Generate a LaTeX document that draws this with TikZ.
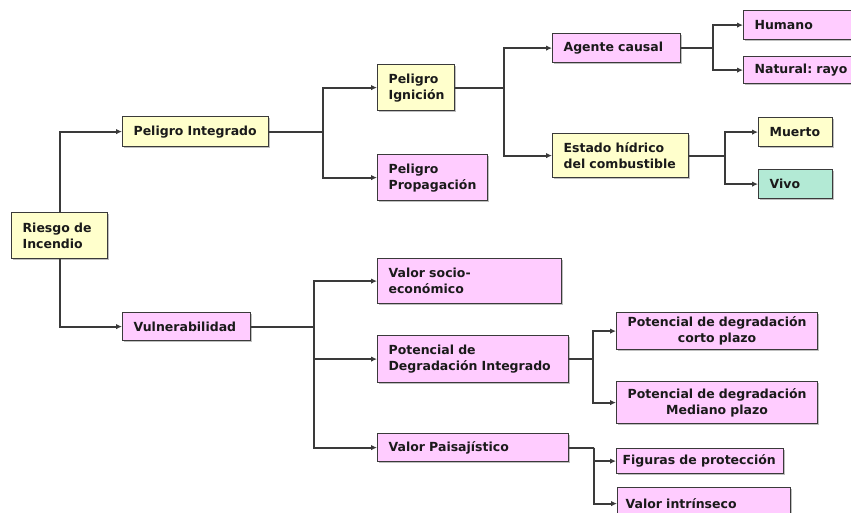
\documentclass[tikz,border=0pt]{standalone}
\usepackage{fontspec}
\setmainfont{DejaVu Sans}
\usetikzlibrary{arrows.meta,shadows}
\definecolor{yel}{HTML}{FFFFCC}
\definecolor{pnk}{HTML}{FFCCFF}
\definecolor{mnt}{HTML}{B3EAD5}
\definecolor{edge}{HTML}{3A3A3A}
\definecolor{txt}{HTML}{1A1A1A}
\tikzset{
  box/.style={draw=edge, line width=1.2pt, anchor=north west, inner xsep=11pt, inner ysep=0pt,
    align=left, text=txt, font=\bfseries\fontsize{12.5}{16}\selectfont,
    drop shadow={shadow xshift=1.3pt, shadow yshift=-1.3pt, fill=black!50, opacity=0.5}},
  ln/.style={draw=edge, line width=1.9pt},
  arr/.style={ln, -{Latex[length=6pt,width=5.5pt]}}
}
\begin{document}
\begin{tikzpicture}[x=1pt,y=-1pt]
\useasboundingbox[fill=white] (0,0) rectangle (851,512);
% nodes
\node[box, fill=yel, minimum width=96, minimum height=46, text width=74] (rie) at (11,212) {Riesgo de\\Incendio};
\node[box, fill=yel, minimum width=146, minimum height=30, text width=124] (pint) at (122,116) {Peligro Integrado};
\node[box, fill=pnk, minimum width=128, minimum height=28, text width=106] (vul) at (122,312) {Vulnerabilidad};
\node[box, fill=yel, minimum width=77, minimum height=46, text width=55] (ign) at (377,64) {Peligro\\Ignición};
\node[box, fill=pnk, minimum width=110, minimum height=46, text width=88] (pro) at (377,154) {Peligro\\Propagación};
\node[box, fill=pnk, minimum width=128, minimum height=29, text width=106] (age) at (552,33) {Agente causal};
\node[box, fill=yel, minimum width=136, minimum height=44, text width=114] (est) at (552,133) {Estado hídrico\\del combustible};
\node[box, fill=pnk, minimum width=130, minimum height=29, text width=108] (hum) at (743,10) {Humano};
\node[box, fill=pnk, minimum width=130, minimum height=27, text width=108] (nat) at (743,56) {Natural:\ rayo};
\node[box, fill=yel, minimum width=74, minimum height=29, text width=52] (mue) at (758,117) {Muerto};
\node[box, fill=mnt, minimum width=74, minimum height=29, text width=52] (viv) at (758,169) {Vivo};
\node[box, fill=pnk, minimum width=184, minimum height=45, text width=162] (soc) at (377,258) {Valor socio-\\económico};
\node[box, fill=pnk, minimum width=191, minimum height=47, text width=169] (pdi) at (377,335) {Potencial de\\Degradación Integrado};
\node[box, fill=pnk, minimum width=191, minimum height=28, text width=169] (pai) at (377,433) {Valor Paisajístico};
\node[box, fill=pnk, minimum width=201, minimum height=37, text width=189, inner xsep=6pt, align=center] (cor) at (616,312) {Potencial de degradación\\corto plazo};
\node[box, fill=pnk, minimum width=201, minimum height=42, text width=189, inner xsep=6pt, align=center] (med) at (616,381) {Potencial de degradación\\Mediano plazo};
\node[box, fill=pnk, minimum width=167, minimum height=25, text width=155, inner xsep=6pt] (fig) at (616,448) {Figuras de protección};
\node[box, fill=pnk, minimum width=173, minimum height=32, text width=157, inner xsep=8pt] (vin) at (617,487) {Valor intrínseco};
% junctions
\path (pint.east) ++(54,0) coordinate (j2);
\path (ign.east) ++(49,0) coordinate (j3);
\path (age.east) ++(32,0) coordinate (j4);
\path (est.east) ++(36,0) coordinate (j5);
\path (vul.east) ++(63,0) coordinate (j6);
\path (pdi.east) ++(24,0) coordinate (j7);
\path (pai.east) ++(25,0) coordinate (j8);
% connectors
\draw[arr] (rie.north) |- (pint);
\draw[arr] (rie.south) |- (vul);
\draw[ln] (pint.east) -- (j2);
\draw[arr] (j2) |- (ign);
\draw[arr] (j2) |- (pro);
\draw[ln] (ign.east) -- (j3);
\draw[arr] (j3) |- (age);
\draw[arr] (j3) |- (est);
\draw[ln] (age.east) -- (j4);
\draw[arr] (j4) |- (hum);
\draw[arr] (j4) |- (nat);
\draw[ln] (est.east) -- (j5);
\draw[arr] (j5) |- (mue);
\draw[arr] (j5) |- (viv);
\draw[ln] (vul.east) -- (j6);
\draw[arr] (j6) |- (soc);
\draw[arr] (j6) |- (pdi);
\draw[arr] (j6) |- (pai);
\draw[ln] (pdi.east) -- (j7);
\draw[arr] (j7) |- (cor);
\draw[arr] (j7) |- (med);
\draw[ln] (pai.east) -- (j8);
\draw[arr] (j8) |- (fig);
\draw[arr] (j8) |- (vin);
\end{tikzpicture}
\end{document}
